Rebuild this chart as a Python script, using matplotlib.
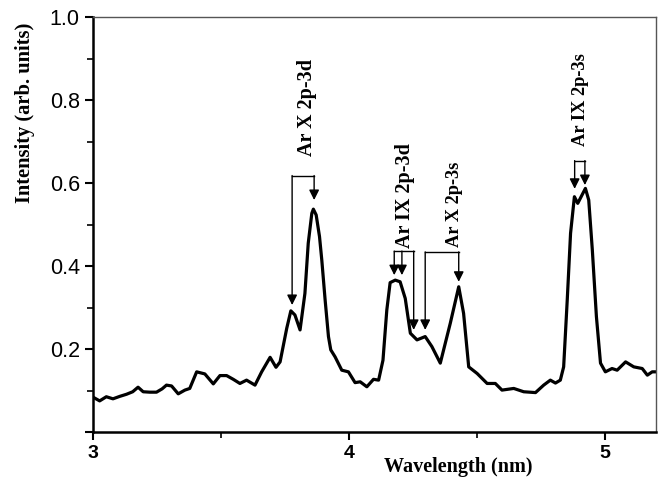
import matplotlib
matplotlib.use("Agg")
import matplotlib.pyplot as plt
from matplotlib.ticker import MultipleLocator

# spectrum
wavelength = [3.000, 3.026, 3.052, 3.078, 3.105, 3.131, 3.155, 3.176, 3.196, 3.222, 3.248,
              3.270, 3.287, 3.307, 3.333, 3.359, 3.378, 3.405, 3.437, 3.470, 3.496,
              3.522, 3.548, 3.574, 3.600, 3.633, 3.659, 3.692, 3.715, 3.731, 3.757,
              3.773, 3.789, 3.809, 3.828, 3.841, 3.855, 3.861, 3.872, 3.885, 3.894,
              3.907, 3.920, 3.929, 3.946, 3.972, 3.998, 4.024, 4.044, 4.070, 4.096,
              4.116, 4.133, 4.148, 4.161, 4.181, 4.200, 4.220, 4.240, 4.266, 4.298,
              4.324, 4.357, 4.396, 4.429, 4.448, 4.468, 4.501, 4.540, 4.572, 4.598,
              4.644, 4.683, 4.729, 4.761, 4.787, 4.807, 4.826, 4.839, 4.853, 4.866,
              4.881, 4.894, 4.924, 4.937, 4.951, 4.967, 4.983, 5.002, 5.028, 5.048,
              5.081, 5.113, 5.146, 5.166, 5.185, 5.200]
intensity = [0.084, 0.075, 0.085, 0.080, 0.086, 0.091, 0.097, 0.108, 0.097, 0.096, 0.096,
             0.104, 0.113, 0.111, 0.092, 0.101, 0.105, 0.145, 0.140, 0.116, 0.136,
             0.136, 0.127, 0.117, 0.125, 0.113, 0.145, 0.180, 0.156, 0.169, 0.250,
             0.292, 0.282, 0.246, 0.334, 0.455, 0.527, 0.537, 0.523, 0.471, 0.414,
             0.318, 0.230, 0.198, 0.181, 0.149, 0.145, 0.119, 0.121, 0.109, 0.127,
             0.125, 0.173, 0.294, 0.360, 0.366, 0.362, 0.322, 0.238, 0.222, 0.230,
             0.206, 0.166, 0.262, 0.350, 0.286, 0.157, 0.141, 0.117, 0.117, 0.101,
             0.105, 0.097, 0.095, 0.113, 0.125, 0.118, 0.125, 0.157, 0.318, 0.479,
             0.567, 0.551, 0.587, 0.559, 0.439, 0.278, 0.166, 0.145, 0.153, 0.149,
             0.169, 0.157, 0.153, 0.137, 0.145, 0.145]

# line identifications: label, text x, text bottom, bracket height, arrow x's, arrow tips
labels = ["Ar X 2p-3d", "Ar IX 2p-3d", "Ar X 2p-3s", "Ar IX 2p-3s"]
label_x = [3.838, 4.220, 4.413, 4.905]
label_y = [0.665, 0.443, 0.446, 0.690]
label_size = [14.5, 14.5, 13.2, 13.3]
bracket_y = [0.618, 0.436, 0.434, 0.654]
arrow_x = [[3.778, 3.864], [4.177, 4.207, 4.253], [4.298, 4.429], [4.882, 4.922]]
arrow_tip = [[0.306, 0.559], [0.378, 0.378, 0.246], [0.246, 0.362], [0.586, 0.595]]

serif = "Liberation Serif"
sans = "Liberation Sans"

fig = plt.figure(figsize=(6.62, 4.78), dpi=100)
ax = fig.add_axes([0.1405, 0.0962, 0.8505, 0.8682])

ax.plot(wavelength, intensity, color="black", lw=2.3, solid_joinstyle="round")

for lab, tx, ty, fs, by, xs, tips in zip(labels, label_x, label_y, label_size,
                                         bracket_y, arrow_x, arrow_tip):
    ax.plot([min(xs), max(xs)], [by, by], color="black", lw=1.0)
    for x, t in zip(xs, tips):
        ax.annotate("", xy=(x, t), xytext=(x, by),
                    arrowprops=dict(arrowstyle="-|>", color="black", lw=1.0,
                                    mutation_scale=15, shrinkA=0, shrinkB=0))
    ax.text(tx, ty, lab, rotation=90, ha="center", va="bottom",
            fontsize=fs, fontweight="bold", family=serif)

ax.set_xlim(3.0, 5.2)
ax.set_ylim(0, 1.0)
ax.xaxis.set_minor_locator(MultipleLocator(0.5))
ax.yaxis.set_minor_locator(MultipleLocator(0.1))

ax.tick_params(which="major", direction="out", length=6, width=1.5)
ax.tick_params(which="minor", direction="out", length=4, width=1.2)
ax.set_yticks([0, 0.2, 0.4, 0.6, 0.8, 1.0])
ax.set_yticklabels(["", "0.2", "0.4", "0.6", "0.8", "1.0"], family=sans, fontsize=15.5)
ax.set_xticks([3, 4, 5])
ax.set_xticklabels(["3", "4", "5"], family=sans, fontsize=14, fontweight="bold")

for side in ["left", "bottom"]:
    ax.spines[side].set_linewidth(1.8)
for side in ["top", "right"]:
    ax.spines[side].set_linewidth(1.0)
    ax.spines[side].set_color("#555555")

ax.set_xlabel("Wavelength (nm)", family=serif, fontweight="bold", fontsize=14.5, va="center")
ax.xaxis.set_label_coords(0.648, -0.084)
ax.set_ylabel("Intensity (arb. units)", family=serif, fontweight="bold", fontsize=14.8)
ax.yaxis.set_label_coords(-0.103, 0.77)

fig.savefig("out.png", dpi=100)
